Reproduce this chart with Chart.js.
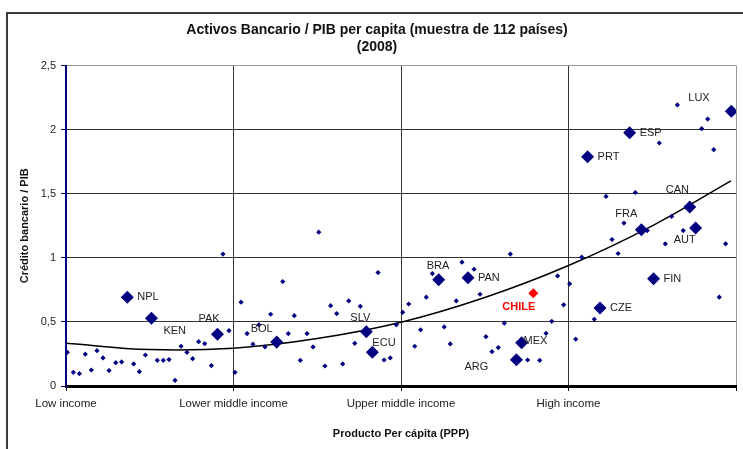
<!doctype html>
<html lang="es">
<head>
  <meta charset="utf-8">
  <title>Activos Bancario / PIB per capita</title>
  <script src="https://cdn.jsdelivr.net/npm/chart.js"></script>
  <style>
    html,body{margin:0;padding:0;background:#fff;overflow:hidden;}
    /* outer frame, runs off the right/bottom edge like the original */
    .frame{position:absolute;left:6px;top:12px;width:800px;height:500px;border:2px solid #3a3a3a;}
    .wrap{position:absolute;left:0;top:0;width:766px;height:449px;}
  </style>
</head>
<body>
  <div class="frame"></div>
  <div class="wrap"><canvas id="chart" width="766" height="449"></canvas></div>

  <script>
    /* ─── data ─── */
    // income band ticks on the x axis (0..4)
    const INCOME_LABELS = ['Low income','Lower middle income','Upper middle income','High income',''];

    // labelled countries (big diamonds)
    const COUNTRY_CODES = ['NPL','KEN','PAK','BOL','SLV','ECU','BRA','PAN','ARG','MEX','CZE','FIN','FRA','AUT','CAN','PRT','ESP','LUX'];
    const COUNTRY_X     = [0.366,0.51,0.904,1.258,1.793,1.829,2.225,2.40,2.689,2.72,3.188,3.508,3.435,3.759,3.724,3.114,3.365,3.972];
    const COUNTRY_Y     = [0.693,0.529,0.404,0.344,0.424,0.263,0.83,0.844,0.205,0.338,0.609,0.836,1.219,1.232,1.396,1.789,1.977,2.143];

    // Chile
    const CHILE_X = [2.79];
    const CHILE_Y = [0.724];

    // rest of the sample (small diamonds)
    const OTHER_X = [0.008,0.044,0.08,0.115,0.151,0.185,0.221,0.257,0.297,0.332,0.404,0.438,0.474,0.545,0.581,0.615,0.651,0.687,0.722,0.756,
                     0.792,0.828,0.868,0.937,0.973,1.009,1.045,1.081,1.116,1.152,1.188,1.222,1.258,1.294,1.327,1.363,1.399,1.439,1.475,1.509,
                     1.546,1.58,1.616,1.652,1.688,1.724,1.757,1.863,1.899,1.936,1.972,2.01,2.046,2.082,2.117,2.151,2.187,2.258,2.294,2.33,
                     2.364,2.436,2.472,2.507,2.543,2.581,2.617,2.653,2.756,2.828,2.866,2.90,2.935,2.971,3.007,3.043,3.079,3.154,3.224,3.26,
                     3.296,3.331,3.399,3.47,3.542,3.578,3.616,3.65,3.685,3.795,3.831,3.867,3.90,3.938];
    const OTHER_Y = [0.263,0.107,0.096,0.248,0.125,0.276,0.219,0.12,0.182,0.188,0.172,0.112,0.242,0.20,0.20,0.206,0.044,0.31,0.263,0.213,
                     0.346,0.33,0.159,1.029,0.432,0.107,0.654,0.409,0.326,0.477,0.305,0.56,0.313,0.815,0.409,0.549,0.20,0.409,0.305,1.20,
                     0.156,0.627,0.565,0.172,0.664,0.333,0.622,0.885,0.203,0.219,0.477,0.575,0.64,0.31,0.438,0.693,0.877,0.461,0.328,0.664,
                     0.966,0.911,0.716,0.385,0.268,0.30,0.49,1.029,0.203,0.20,0.411,0.505,0.859,0.633,0.797,0.365,1.005,0.521,1.479,1.143,
                     1.034,1.271,1.51,1.213,1.896,1.109,1.323,2.193,1.213,2.008,2.083,1.844,0.693,1.109];

    // trend line
    const TREND_X = [0,0.5,1,1.5,2,2.5,3,3.5,3.97];
    const TREND_Y = [0.333,0.284,0.295,0.37,0.497,0.69,0.94,1.25,1.60];

    /* label offsets from their diamond, px (dx to text start, dy to text middle) */
    const LABEL_OFFSETS = {
      NPL:[10,0], KEN:[12,13], PAK:[-19,-15], BOL:[-26,-13], SLV:[-16,-14], ECU:[0,-9],
      BRA:[-12,-14], PAN:[10,0], ARG:[-52,7], MEX:[2,-2], CZE:[10,0], FIN:[10,0],
      FRA:[-26,-16], AUT:[-22,12], CAN:[-24,-17], PRT:[10,0], ESP:[10,0], LUX:[-43,-13]
    };
    const CHILE_OFFSET = [-31,14];

    const NAVY = '#000080';
    const FONT = "'Liberation Sans', Arial, sans-serif";

    const pts = (xs,ys)=>xs.map((x,i)=>({x,y:ys[i]}));

    const labelPlugin={
      id:'countryLabels',
      afterDatasetsDraw(chart){
        const {ctx,scales:{x,y}}=chart;
        ctx.save();
        ctx.textAlign='left';
        ctx.textBaseline='middle';
        ctx.font='11px '+FONT;
        ctx.fillStyle='#222';
        COUNTRY_CODES.forEach((c,i)=>{
          const [dx,dy]=LABEL_OFFSETS[c];
          ctx.fillText(c,x.getPixelForValue(COUNTRY_X[i])+dx,y.getPixelForValue(COUNTRY_Y[i])+dy);
        });
        ctx.font='bold 11px '+FONT;
        ctx.fillStyle='#ff0000';
        ctx.fillText('CHILE',x.getPixelForValue(CHILE_X[0])+CHILE_OFFSET[0],y.getPixelForValue(CHILE_Y[0])+CHILE_OFFSET[1]);
        ctx.restore();
      }
    };

    new Chart(document.getElementById('chart'),{
      type:'scatter',
      data:{datasets:[
        {label:'Chile',data:pts(CHILE_X,CHILE_Y),pointStyle:'rectRot',pointRadius:5,
         backgroundColor:'#ff0000',borderColor:'#ff0000',borderWidth:0,order:0},
        {label:'Países',data:pts(COUNTRY_X,COUNTRY_Y),pointStyle:'rectRot',pointRadius:6.5,
         backgroundColor:NAVY,borderColor:NAVY,borderWidth:0,order:1},
        {label:'Resto',data:pts(OTHER_X,OTHER_Y),pointStyle:'rectRot',pointRadius:2.6,
         backgroundColor:NAVY,borderColor:NAVY,borderWidth:0,order:2},
        {label:'Tendencia',data:pts(TREND_X,TREND_Y),showLine:true,pointRadius:0,
         borderColor:'#000',borderWidth:1.5,tension:0.4,order:3}
      ]},
      options:{
        responsive:false,animation:false,
        layout:{padding:{left:18,right:30,top:0,bottom:8}},
        plugins:{
          legend:{display:false},
          tooltip:{enabled:false},
          title:{
            display:true,
            text:['Activos Bancario / PIB per capita (muestra de 112 países)','(2008)'],
            color:'#111',
            font:{family:FONT,size:14,weight:'bold',lineHeight:1.2},
            padding:{top:22,bottom:10}
          }
        },
        scales:{
          x:{
            type:'linear',min:0,max:4,
            afterFit:s=>{s.height=55;},
            border:{color:'#000',width:3},
            grid:{
              color:c=>c.tick.value===0?'rgba(0,0,0,0)':(c.tick.value===4?'#999':'#333'),
              lineWidth:1,tickLength:5,tickColor:'#000'
            },
            ticks:{stepSize:1,padding:6,color:'#222',font:{family:FONT,size:11.5},
                   maxRotation:0,callback:v=>INCOME_LABELS[v]},
            title:{display:true,text:'Producto Per cápita (PPP)',color:'#111',
                   font:{family:FONT,size:11,weight:'bold'},padding:{top:0,bottom:0}}
          },
          y:{
            min:0,max:2.5,
            afterFit:s=>{s.width=48;},
            border:{color:NAVY,width:2},
            grid:{
              color:c=>c.tick.value===2.5?'#999':'#333',
              lineWidth:1,tickLength:5,tickColor:NAVY
            },
            ticks:{stepSize:0.5,padding:5,color:'#222',font:{family:FONT,size:11},
                   callback:v=>String(v).replace('.',',')},
            title:{display:true,text:'Crédito bancario / PIB',color:'#111',
                   font:{family:FONT,size:11,weight:'bold'},padding:{top:0,bottom:0}}
          }
        }
      },
      plugins:[labelPlugin]
    });
  </script>
</body>
</html>
